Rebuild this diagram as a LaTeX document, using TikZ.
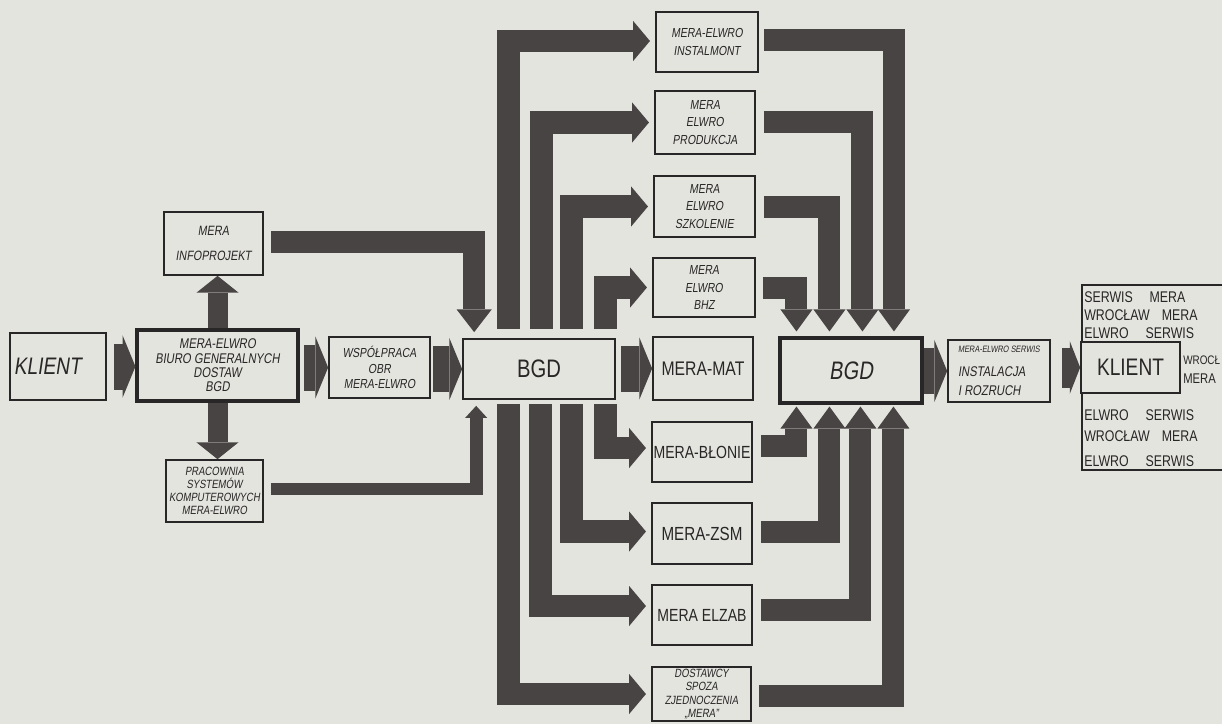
\documentclass[tikz,border=0pt]{standalone}
\usepackage{fontspec}
\setmainfont{Liberation Sans}
\newfontfamily\lit{Liberation Sans}[FakeStretch=0.8,FakeSlant=0.15]
\newfontfamily\lup{Liberation Sans}[FakeStretch=0.8]
\usetikzlibrary{arrows.meta,calc}
\definecolor{bg}{RGB}{228,228,223}
\definecolor{ink}{RGB}{40,38,38}
\definecolor{arr}{RGB}{72,68,68}
\tikzset{
  box/.style={draw=ink, fill=bg, line width=1.2pt, inner sep=0pt, align=center, text=ink},
  sz/.style 2 args={minimum width={#1*0.025cm}, minimum height={#2*0.025cm}},
  tiny/.style={font=\lit\fontsize{8.5}{9.4}\selectfont},
  small/.style={font=\lit\fontsize{9.3}{12.2}\selectfont},
  frametext/.style={anchor=west, inner sep=0pt, text=ink, font=\lup\fontsize{11}{12}\selectfont},
  fatl/.style={draw=arr, line width=0.57cm, line join=miter, line cap=butt, shorten >=0.13cm,
    -{Triangle[length=0.42cm,width=1.0cm,line width=0pt]}},
  fatv/.style={draw=arr, line width=0.55cm, line join=miter, line cap=butt,
    -{Triangle[length=0.55cm,width=0.8cm,line width=0pt]}},
  shortfat/.style={draw=arr, line width=1.15cm, line cap=butt,
    -{Triangle[length=0.32cm,width=1.55cm,line width=0pt]}},
}
\begin{document}
\begin{tikzpicture}[x=0.025cm,y=-0.025cm]
\useasboundingbox[fill=bg] (0,0) rectangle (1222,724);

% ---------- left part ----------
\node[box, sz={96}{67}, line width=1.1pt, font=\lit\fontsize{17}{20}\selectfont] (klientL) at (58,366.5) {\makebox[2.2cm][l]{KLIENT}};
\node[box, sz={161}{71}, line width=2.2pt, font=\lit\fontsize{10}{10.2}\selectfont] (biuro) at (217.5,365.5)
  {MERA-ELWRO\\BIURO GENERALNYCH\\DOSTAW\\BGD};
\node[box, sz={99}{63}, font=\lit\fontsize{9.6}{18}\selectfont] (info) at (213.5,243.5) {MERA\\INFOPROJEKT};
\node[box, sz={97}{62}, tiny] (prac) at (214.5,491) {PRACOWNIA\\SYSTEMÓW\\KOMPUTEROWYCH\\MERA-ELWRO};
\node[box, sz={101}{61}, font=\lit\fontsize{9.3}{11}\selectfont] (wsp) at (379.5,367.5) {WSPÓŁPRACA\\OBR\\MERA-ELWRO};
\node[box, sz={152}{60}, font=\lup\fontsize{18}{20}\selectfont] (bgd2) at (539,369) {BGD};

% ---------- middle column ----------
\node[box, sz={102}{60}, small] (instalmont) at (707,42) {MERA-ELWRO\\INSTALMONT};
\node[box, sz={100}{63}, small] (produkcja) at (705,122.5) {MERA\\ELWRO\\PRODUKCJA};
\node[box, sz={101}{61}, small] (szkolenie) at (704.5,206.5) {MERA\\ELWRO\\SZKOLENIE};
\node[box, sz={102}{59}, small] (bhz) at (704,287.5) {MERA\\ELWRO\\BHZ};
\node[box, sz={100}{63}, font=\lup\fontsize{14}{16}\selectfont] (mat) at (703,368.5) {MERA-MAT};
\node[box, sz={100}{60}, font=\lup\fontsize{12.5}{15}\selectfont] (blonie) at (702,452) {MERA-BŁONIE};
\node[box, sz={100}{61}, font=\lup\fontsize{13.5}{15}\selectfont] (zsm) at (702,533.5) {MERA-ZSM};
\node[box, sz={100}{60}, font=\lup\fontsize{12.5}{15}\selectfont] (elzab) at (702,615) {MERA ELZAB};
\node[box, sz={99}{54}, tiny] (dost) at (701.5,694) {DOSTAWCY\\SPOZA\\ZJEDNOCZENIA\\„MERA”};

% ---------- right part ----------
\node[box, sz={142}{65}, line width=2.2pt, font=\lit\fontsize{18}{20}\selectfont] (bgd3) at (851,370.5) {BGD};
\node[box, sz={102}{62}, align=left, font=\lit\fontsize{10}{14}\selectfont] (inst) at (999,371)
  {{\fontsize{6.6}{7}\selectfont MERA-ELWRO SERWIS}\\[3pt]INSTALACJA\\I ROZRUCH};

% frame with service texts round the client
\draw[ink, line width=1.1pt] (1222,285) -- (1082,285) -- (1082,470) -- (1222,470);
\node[frametext] (s1) at (1084,297) {SERWIS\hspace{0.42cm}MERA};
\node[frametext] (s2) at (1084,315) {WROCŁAW\hspace{0.3cm}MERA};
\node[frametext] (s3) at (1084,333) {ELWRO\hspace{0.42cm}SERWIS};
\node[frametext, font=\lup\fontsize{8.8}{10}\selectfont] (s4) at (1183,360) {WROCŁ};
\node[frametext, font=\lup\fontsize{10}{11}\selectfont] (s5) at (1183,379) {MERA};
\node[frametext] (s6) at (1084,415) {ELWRO\hspace{0.42cm}SERWIS};
\node[frametext] (s7) at (1084,436) {WROCŁAW\hspace{0.3cm}MERA};
\node[frametext] (s8) at (1084,461) {ELWRO\hspace{0.42cm}SERWIS};
\node[box, sz={99}{51}, font=\lup\fontsize{17}{20}\selectfont] (klientR) at (1130.5,367.5) {KLIENT};

% ---------- short fat arrows ----------
\draw[shortfat] ($(klientL.east)+(7,0)$) -- (klientL.east -| biuro.west);
\draw[shortfat] ($(wsp.west)+(-24,0)$) -- (wsp.west);
\draw[shortfat] ($(bgd2.west)+(-29,0)$) -- (bgd2.west);
\draw[shortfat] ($(mat.west)+(-31,0)$) -- (mat.west);
\draw[shortfat] ($(inst.west)+(-23,0)$) -- (inst.west);
\draw[draw=arr, line width=1.0cm, line cap=butt, -{Triangle[length=0.26cm,width=1.32cm,line width=0pt]}]
  ($(klientR.west)+(-18,0)$) -- (klientR.west);

% ---------- vertical arrows of the BGD office ----------
\draw[draw=arr, line width=0.5cm, line cap=butt, -{Triangle[length=0.42cm,width=1.05cm,line width=0pt]}]
  (biuro.north) -- (biuro.north |- info.south);
\draw[draw=arr, line width=0.5cm, line cap=butt, -{Triangle[length=0.42cm,width=1.05cm,line width=0pt]}]
  (biuro.south) -- (biuro.south |- prac.north);

% ---------- into first BGD ----------
\draw[draw=arr, line width=0.55cm, line join=miter, line cap=butt, -{Triangle[length=0.57cm,width=0.88cm,line width=0pt]}]
  ($(info.east)+(7,-1.5)$) -| ($(bgd2.north west)+(12,-6)$);
\draw[draw=arr, line width=0.32cm, line join=miter, line cap=butt, -{Triangle[length=0.3cm,width=0.55cm,line width=0pt]}]
  ($(prac.east)+(7,-2)$) -| ($(bgd2.south west)+(14,6)$);

% ---------- from first BGD to the units ----------
\draw[fatl] ($(bgd2.north west)+(46,-9)$) |- ($(instalmont.west)+(0,-1)$);
\draw[fatl] ($(bgd2.north west)+(79.5,-9)$) |- (produkcja.west);
\draw[fatl] ($(bgd2.north west)+(109.5,-9)$) |- (szkolenie.west);
\draw[fatl] ($(bgd2.north west)+(143,-9)$) |- (bhz.west);
\draw[fatl] ($(bgd2.south west)+(143,4)$) |- ($(blonie.west)+(0,-4)$);
\draw[fatl] ($(bgd2.south west)+(109.5,4)$) |- ($(zsm.west)+(0,-2)$);
\draw[fatl] ($(bgd2.south west)+(78.5,4)$) |- ($(elzab.west)+(0,-9)$);
\draw[fatl] ($(bgd2.south west)+(46,4)$) |- (dost.west);

% ---------- from the units to second BGD ----------
\draw[fatv] ($(instalmont.east)+(5,-2)$) -| ($(bgd3.north west)+(115.5,-5)$);
\draw[fatv] ($(produkcja.east)+(8,-1)$) -| ($(bgd3.north west)+(84,-5)$);
\draw[fatv] ($(szkolenie.east)+(8,0)$) -| ($(bgd3.north west)+(51,-5)$);
\draw[fatv] ($(bhz.east)+(7,0)$) -| ($(bgd3.north west)+(18,-5)$);
\draw[fatv] ($(blonie.east)+(8,-6)$) -| ($(bgd3.south west)+(18,2)$);
\draw[fatv] ($(zsm.east)+(8,-2)$) -| ($(bgd3.south west)+(51,2)$);
\draw[fatv] ($(elzab.east)+(8,-5)$) -| ($(bgd3.south west)+(82,2)$);
\draw[fatv] ($(dost.east)+(7,2)$) -| ($(bgd3.south west)+(115,2)$);
\end{tikzpicture}
\end{document}
